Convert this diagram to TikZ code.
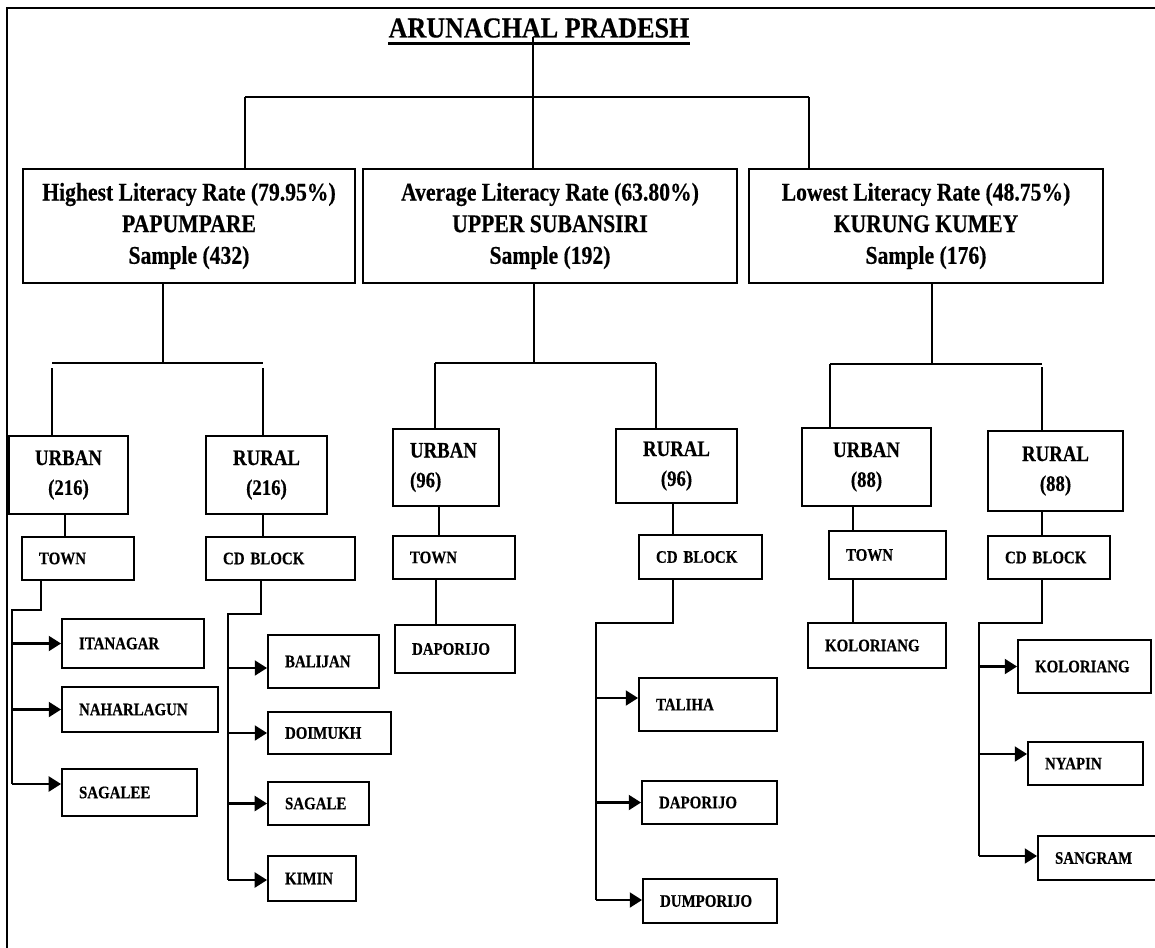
\documentclass[tikz,border=0pt]{standalone}
\usepackage{fontspec}
\setmainfont{Liberation Serif}[FakeStretch=0.85, FakeBold=0.4]
\newfontfamily\headfont{Liberation Serif}[FakeStretch=0.9, FakeBold=0.4]
\usetikzlibrary{arrows.meta}

\begin{document}
\begin{tikzpicture}[x=0.02cm, y=-0.02cm,
  frame/.style={line width=1.1pt},
  link/.style={line width=0.9pt},
  feed/.style={line width=1.3pt, -{Triangle[length=7pt,width=8.5pt]}},
  district/.style={draw, line width=1.1pt, inner sep=0pt, align=center,
    font=\fontsize{14.5}{18}\selectfont\bfseries},
  zone/.style={draw, line width=1.1pt, inner sep=0pt, align=center,
    font=\fontsize{12.6}{17}\selectfont\bfseries},
  unit/.style={draw, line width=1.1pt, inner xsep=0.34cm, inner ysep=0pt, align=left,
    font=\fontsize{10}{12}\selectfont\bfseries}]
\useasboundingbox (0,0) rectangle (1155,947);
\draw[frame] (7,960) -- (7,8) -- (1165,8);

% state title
\node[inner sep=0pt, font=\headfont\fontsize{16.5}{20}\selectfont\bfseries] (title) at (539,28) {ARUNACHAL PRADESH};
\draw[line width=1.4pt] ([yshift=-3.4pt]title.base west) -- ([yshift=-3.4pt]title.base east);

% districts
\node[district, minimum width=6.64cm, minimum height=2.28cm] (papum) at (189,226) {Highest Literacy Rate (79.95\%)\\PAPUMPARE\\Sample (432)};
\node[district, minimum width=7.48cm, minimum height=2.28cm] (subansiri) at (550,226) {Average Literacy Rate (63.80\%)\\UPPER SUBANSIRI\\Sample (192)};
\node[district, minimum width=7.08cm, minimum height=2.28cm] (kurung) at (926,226) {Lowest Literacy Rate (48.75\%)\\KURUNG KUMEY\\Sample (176)};

% urban / rural
\node[zone, minimum width=2.38cm, minimum height=1.56cm] (papumU) at (68.5,475) {URBAN\\(216)};
\node[zone, minimum width=2.42cm, minimum height=1.56cm] (papumR) at (266.5,475) {RURAL\\(216)};
\node[zone, align=left, inner xsep=0.34cm, text width=1.44cm, minimum height=1.54cm] (subU) at (446,467.5) {URBAN\\(96)};
\node[zone, minimum width=2.42cm, minimum height=1.48cm] (subR) at (676.5,466) {RURAL\\(96)};
\node[zone, minimum width=2.58cm, minimum height=1.56cm] (kurU) at (866.5,467) {URBAN\\(88)};
\node[zone, minimum width=2.7cm, minimum height=1.6cm] (kurR) at (1055.5,471) {RURAL\\(88)};

% town / cd block
\node[unit, text width=1.56cm, minimum height=0.86cm] (pTown) at (78,558.5) {TOWN};
\node[unit, text width=2.30cm, minimum height=0.86cm] (pBlock) at (280.5,558.5) {CD BLOCK};
\node[unit, text width=1.76cm, minimum height=0.86cm] (uTown) at (454,557.5) {TOWN};
\node[unit, text width=1.78cm, minimum height=0.88cm] (uBlock) at (700.5,557) {CD BLOCK};
\node[unit, text width=1.66cm, minimum height=0.96cm] (kTown) at (887.5,555) {TOWN};
\node[unit, text width=1.76cm, minimum height=0.86cm] (kBlock) at (1049,557.5) {CD BLOCK};

% places
\node[unit, text width=2.16cm, minimum height=0.98cm] (itanagar) at (133,643.5) {ITANAGAR};
\node[unit, text width=2.44cm, minimum height=0.90cm] (naharlagun) at (140,709.5) {NAHARLAGUN};
\node[unit, text width=2.02cm, minimum height=0.94cm] (sagalee) at (129.5,792.5) {SAGALEE};
\node[unit, text width=1.54cm, minimum height=1.06cm] (balijan) at (323.5,661.5) {BALIJAN};
\node[unit, text width=1.78cm, minimum height=0.84cm] (doimukh) at (329.5,733) {DOIMUKH};
\node[unit, text width=1.34cm, minimum height=0.86cm] (sagale) at (318.5,803.5) {SAGALE};
\node[unit, text width=1.08cm, minimum height=0.90cm] (kimin) at (312,878.5) {KIMIN};
\node[unit, text width=1.72cm, minimum height=0.96cm] (uDaporijo) at (455,649) {DAPORIJO};
\node[unit, text width=2.08cm, minimum height=1.06cm] (taliha) at (708,704.5) {TALIHA};
\node[unit, text width=2.02cm, minimum height=0.86cm] (rDaporijo) at (709.5,802.5) {DAPORIJO};
\node[unit, text width=2.00cm, minimum height=0.88cm] (dumporijo) at (710,901) {DUMPORIJO};
\node[unit, text width=2.08cm, minimum height=0.90cm] (kKoloriang) at (877,645.5) {KOLORIANG};
\node[unit, text width=1.98cm, minimum height=1.06cm] (rKoloriang) at (1084.5,666.5) {KOLORIANG};
\node[unit, text width=1.62cm, minimum height=0.86cm] (nyapin) at (1085.5,763.5) {NYAPIN};
\node[unit, text width=2.06cm, minimum height=0.88cm] (sangram) at (1106.5,858) {SANGRAM};

% state to districts
\coordinate (hub) at (533,97);
\coordinate (hubL) at (245,97);
\coordinate (hubR) at (809,97);
\draw[link] (title.base -| hub) -- (hub) -- (hub |- subansiri.north);
\draw[link] (hubL) -- (hubR);
\draw[link] (hubL) -- (hubL |- papum.north);
\draw[link] (hubR) -- (hubR |- kurung.north);

% papumpare
\coordinate (pj) at (163,363);
\coordinate (pjL) at (52,363);
\coordinate (pjR) at (263,363);
\draw[link] (pj |- papum.south) -- (pj);
\draw[link] (pjL) -- (pjR);
\draw[link] ([yshift=-0.1cm]pjL) -- (pjL |- papumU.north);
\draw[link] ([yshift=-0.1cm]pjR) -- (pjR |- papumR.north);
\draw[link] (papumU.south -| 65,0) -- (pTown.north -| 65,0);
\draw[link] (papumR.south -| pjR) -- (pBlock.north -| pjR);
\coordinate (ptTop) at (12,610);
\coordinate (ptEnd) at (12,784);
\draw[link] (pTown.south -| 41,0) |- (ptTop) -- (ptEnd);
\draw[feed] (itanagar.west -| ptTop) -- (itanagar.west);
\draw[feed] (naharlagun.west -| ptTop) -- (naharlagun.west);
\draw[feed] (ptEnd) -- (ptEnd -| sagalee.west);
\coordinate (pbTop) at (228,614);
\coordinate (pbEnd) at (228,880);
\draw[link] (pBlock.south -| 261,0) |- (pbTop) -- (pbEnd);
\coordinate (bal) at ([yshift=-0.13cm]balijan.west);
\draw[feed] (bal -| pbTop) -- (bal);
\draw[feed] (doimukh.west -| pbTop) -- (doimukh.west);
\draw[feed] (sagale.west -| pbTop) -- (sagale.west);
\draw[feed] (pbEnd) -- (pbEnd -| kimin.west);

% upper subansiri
\coordinate (uj) at (534,363);
\coordinate (ujL) at (435,363);
\coordinate (ujR) at (656,363);
\draw[link] (uj |- subansiri.south) -- (uj);
\draw[link] (ujL) -- (ujR);
\draw[link] (ujL) -- (ujL |- subU.north);
\draw[link] (ujR) -- (ujR |- subR.north);
\draw[link] (subU.south -| 439,0) -- (uTown.north -| 439,0);
\draw[link] (uTown.south -| 436,0) -- (uDaporijo.north -| 436,0);
\draw[link] (subR.south -| 673,0) -- (uBlock.north -| 673,0);
\coordinate (ubTop) at (596,623);
\coordinate (ubEnd) at (596,900);
\draw[link] (uBlock.south -| 673,0) |- (ubTop) -- (ubEnd);
\coordinate (tal) at ([yshift=0.13cm]taliha.west);
\draw[feed] (tal -| ubTop) -- (tal);
\draw[feed] (rDaporijo.west -| ubTop) -- (rDaporijo.west);
\draw[feed] (ubEnd) -- (ubEnd -| dumporijo.west);

% kurung kumey
\coordinate (kj) at (932,364);
\coordinate (kjL) at (830,364);
\coordinate (kjR) at (1042,364);
\draw[link] (kj |- kurung.south) -- (kj);
\draw[link] (kjL) -- (kjR);
\draw[link] (kjL) -- (kjL |- kurU.north);
\draw[link] ([yshift=-0.06cm]kjR) -- (kjR |- kurR.north);
\draw[link] (kurU.south -| 853,0) -- (kTown.north -| 853,0);
\draw[link] (kTown.south -| 853,0) -- (kKoloriang.north -| 853,0);
\draw[link] (kurR.south -| kjR) -- (kBlock.north -| kjR);
\coordinate (kbTop) at (979,623);
\coordinate (kbEnd) at (979,856);
\draw[link] (kBlock.south -| kjR) |- (kbTop) -- (kbEnd);
\draw[feed] (rKoloriang.west -| kbTop) -- (rKoloriang.west);
\coordinate (nya) at ([yshift=0.19cm]nyapin.west);
\draw[feed] (nya -| kbTop) -- (nya);
\draw[feed] (kbEnd) -- (kbEnd -| sangram.west);
\end{tikzpicture}
\end{document}
